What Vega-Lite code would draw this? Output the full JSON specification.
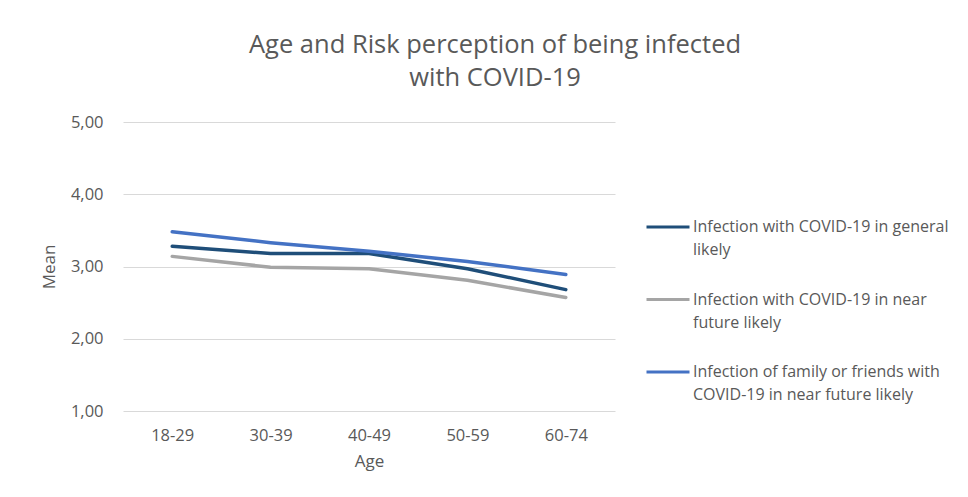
{
  "$schema": "https://vega.github.io/schema/vega-lite/v6.json",
  "width": 492,
  "height": 289,
  "autosize": {"type": "none"},
  "padding": {"left": 123, "top": 122, "right": 353, "bottom": 86},
  "background": "white",
  "title": {
    "text": ["Age and Risk perception of being infected", "with COVID-19"],
    "anchor": "middle",
    "frame": "group",
    "dx": 126,
    "offset": 23,
    "font": "Open Sans",
    "fontSize": 25.5,
    "fontWeight": "normal",
    "color": "#595959",
    "lineHeight": 33
  },
  "data": {
    "values": [
      {"age": "18-29", "series": "Infection with COVID-19  in general likely", "mean": 3.28},
      {"age": "30-39", "series": "Infection with COVID-19  in general likely", "mean": 3.18},
      {"age": "40-49", "series": "Infection with COVID-19  in general likely", "mean": 3.18},
      {"age": "50-59", "series": "Infection with COVID-19  in general likely", "mean": 2.97},
      {"age": "60-74", "series": "Infection with COVID-19  in general likely", "mean": 2.68},
      {"age": "18-29", "series": "Infection with COVID-19 in near future likely", "mean": 3.14},
      {"age": "30-39", "series": "Infection with COVID-19 in near future likely", "mean": 2.99},
      {"age": "40-49", "series": "Infection with COVID-19 in near future likely", "mean": 2.97},
      {"age": "50-59", "series": "Infection with COVID-19 in near future likely", "mean": 2.81},
      {"age": "60-74", "series": "Infection with COVID-19 in near future likely", "mean": 2.57},
      {"age": "18-29", "series": "Infection of family or friends with COVID-19 in near future likely", "mean": 3.48},
      {"age": "30-39", "series": "Infection of family or friends with COVID-19 in near future likely", "mean": 3.33},
      {"age": "40-49", "series": "Infection of family or friends with COVID-19 in near future likely", "mean": 3.21},
      {"age": "50-59", "series": "Infection of family or friends with COVID-19 in near future likely", "mean": 3.07},
      {"age": "60-74", "series": "Infection of family or friends with COVID-19 in near future likely", "mean": 2.89}
    ]
  },
  "mark": {"type": "line", "strokeWidth": 3.5, "strokeCap": "round", "strokeJoin": "round"},
  "encoding": {
    "x": {
      "field": "age",
      "type": "ordinal",
      "scale": {"type": "point", "padding": 0.5},
      "axis": {
        "title": "Age",
        "labelAngle": 0,
        "labelPadding": 16,
        "titlePadding": 10,
        "ticks": false,
        "domain": false,
        "grid": false
      }
    },
    "y": {
      "field": "mean",
      "type": "quantitative",
      "scale": {"domain": [1, 5], "nice": false, "zero": false},
      "axis": {
        "title": "Mean",
        "values": [1, 2, 3, 4, 5],
        "labelExpr": "replace(format(datum.value, '.2f'), '.', ',')",
        "ticks": false,
        "domain": false,
        "labelPadding": 20,
        "titlePadding": 12,
        "gridColor": "#d9d9d9",
        "gridWidth": 1
      }
    },
    "color": {
      "field": "series",
      "type": "nominal",
      "scale": {
        "domain": [
          "Infection with COVID-19  in general likely",
          "Infection with COVID-19 in near future likely",
          "Infection of family or friends with COVID-19 in near future likely"
        ],
        "range": ["#1f4e79", "#a5a5a5", "#4472c4"]
      },
      "legend": {
        "title": null,
        "orient": "none",
        "legendX": 522,
        "legendY": 82,
        "symbolType": "stroke",
        "symbolSize": 1849,
        "symbolStrokeWidth": 3,
        "labelOffset": 2,
        "rowPadding": 18.5,
        "labelLimit": 400,
        "labelExpr": "datum.index == 0 ? ['Infection with COVID-19  in general', 'likely'] : datum.index == 1 ? ['Infection with COVID-19 in near', 'future likely'] : ['Infection of family or friends with', 'COVID-19 in near future likely']",
        "labelFont": "Open Sans",
        "labelFontSize": 16,
        "labelColor": "#595959",
        "labelBaseline": "middle",
        "encoding": {
          "labels": {
            "enter": {"lineHeight": {"value": 23}},
            "update": {"lineHeight": {"value": 23}}
          }
        }
      }
    }
  },
  "config": {
    "view": {"stroke": null},
    "style": {"guide-label": {"lineHeight": 23}},
    "axis": {
      "labelFont": "Open Sans",
      "labelFontSize": 16.5,
      "labelColor": "#595959",
      "titleFont": "Open Sans",
      "titleFontSize": 17,
      "titleFontWeight": "normal",
      "titleColor": "#595959"
    }
  }
}
